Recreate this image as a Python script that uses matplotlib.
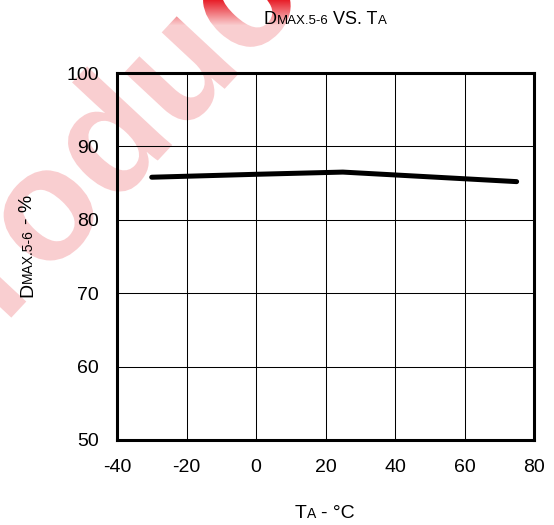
import numpy as np
import matplotlib
matplotlib.use("Agg")
import matplotlib.pyplot as plt
import matplotlib.transforms as mtransforms
from matplotlib.textpath import TextPath
from matplotlib.patches import PathPatch
from matplotlib.font_manager import FontProperties

# data
temp_c = [-30, 0, 25, 50, 75]
dmax_pct = [85.8, 86.2, 86.5, 85.85, 85.2]
x_ticks = [-40, -20, 0, 20, 40, 60, 80]
y_ticks = [50, 60, 70, 80, 90, 100]

plt.rcParams["font.family"] = ["Liberation Sans", "DejaVu Sans"]
plt.rcParams["axes.unicode_minus"] = False

W, H = 554, 525
fig = plt.figure(figsize=(W / 100, H / 100), dpi=100)

# red "Product" watermark behind the chart, strong at the top edge, pale below
bg = fig.add_axes([0, 0, 1, 1], zorder=0)
bg.axis("off")
tp = TextPath((0, 0), "Product", size=160,
              prop=FontProperties(family="Liberation Sans", weight="bold"))
ext = tp.get_extents()
tr = (mtransforms.Affine2D().translate(-(ext.x0 + ext.x1) / 2, 0)
      .rotate_deg(47).translate(140, H - 179.6) + bg.transData)
patch = PathPatch(tp, transform=tr, facecolor="none", edgecolor="none")
bg.add_patch(patch)
rows = np.arange(H, dtype=float)[:, None] * np.ones((1, W))
img = np.zeros((H, W, 4))
img[..., 0] = 232 / 255
img[..., 1] = 32 / 255
img[..., 2] = 42 / 255
img[..., 3] = 0.22 + 0.78 * np.clip(1 - rows / 25, 0, 1)
im = bg.imshow(img, extent=[0, W, 0, H], origin="upper", aspect="auto",
               interpolation="nearest")
im.set_clip_path(patch)
bg.set_xlim(0, W)
bg.set_ylim(0, H)

# main chart
ax = fig.add_axes([117 / W, 1 - 440 / H, 417 / W, 367 / H], zorder=1)
ax.set_facecolor("none")
ax.plot(temp_c, dmax_pct, color="black", lw=3.6,
        solid_capstyle="round", solid_joinstyle="round", zorder=3)
ax.set_xlim(-40, 80)
ax.set_ylim(50, 100)
ax.set_xticks(x_ticks)
ax.set_yticks(y_ticks)
ax.grid(True, color="black", lw=0.75)
ax.tick_params(axis="both", length=0, labelsize=14)
ax.tick_params(axis="x", pad=13.5)
ax.tick_params(axis="y", pad=13)
for sp in ax.spines.values():
    sp.set_linewidth(2.2)


def rich_text(parts, x, y, vertical=False):
    """Draw pieces of text with different sizes on one baseline, centred at x (or y)."""
    renderer = fig.canvas.get_renderer()
    items = []
    total = 0
    for s, fs in parts:
        sp_w = 0.2778 * fs * 100 / 72
        lead = len(s) - len(s.lstrip(" "))
        trail = len(s) - len(s.rstrip(" "))
        core = s.strip(" ")
        t = fig.text(0, 0, core, fontsize=fs)
        w = t.get_window_extent(renderer).width
        t.remove()
        items.append((core, fs, lead * sp_w, w, trail * sp_w))
        total += lead * sp_w + w + trail * sp_w
    pos = -total / 2
    ident = mtransforms.IdentityTransform()
    for core, fs, lw_, w, tw in items:
        pos += lw_
        if vertical:
            fig.text(x, y + pos, core, fontsize=fs, rotation=90,
                     rotation_mode="anchor", ha="left", va="baseline",
                     transform=ident)
        else:
            fig.text(x + pos, y, core, fontsize=fs, ha="left", va="baseline",
                     transform=ident)
        pos += w + tw


rich_text([("D", 13), ("MAX.5-6", 9.5), (" VS. T", 13), ("A", 9.5)], 325, H - 24.3)
rich_text([("T", 14), ("A", 10), (" - °C", 14)], 325, H - 518.3)
rich_text([("D", 14), ("MAX.5-6", 10), (" - %", 14)], 32, H - 246, vertical=True)

fig.savefig("out.png", dpi=100)
